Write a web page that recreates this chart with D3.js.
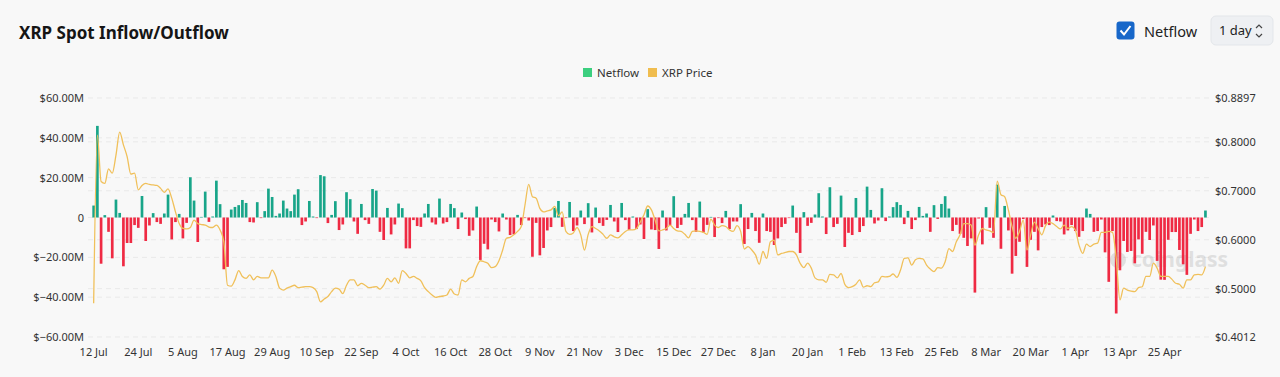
<!DOCTYPE html>
<html>
<head>
<meta charset="utf-8">
<script src="https://cdn.jsdelivr.net/npm/d3@7"></script>
<style>
  html, body { margin: 0; padding: 0; background: #f8f8f8; }
  body { width: 1280px; height: 377px; overflow: hidden; font-family: "Noto Sans", "Open Sans", sans-serif; }
</style>
</head>
<body>
<div id="chart"></div>
<script>
// daily netflow in millions USD, 12 Jul 2023 -> 6 May 2024
const netflow = [
  6, 46, -23.2, 1.2, -7.2, -20.5, 9, 2.3, -24.5, -12.8,
  -12.8, -3.8, -5.2, 10.8, -11.8, -4, 2.2, -2.3, -3.2, 2,
  11.5, -11, -2.3, 1.8, -10.5, -2.7, 20.2, 8.5, -12.3, 0.3,
  13, -2.2, 0.5, 18.5, 6.7, -26, -24.8, 4, 5.3, 6.2,
  8.8, 7.3, -2.3, -2.5, 7.7, -0.3, 3.2, 14.5, 10.3, 0.8,
  2, 8.5, 4.5, 3.2, 11.5, 14.2, -3.8, -2, 8.3, 0.5,
  -0.3, 21.3, 20.7, -2.8, 1.3, 8.2, -6.3, -3.5, 12.7, 9.2,
  -2, -8.2, 6.8, -1.3, -3.2, 14.3, 13.5, -7.2, -11.3, 4.8,
  -8.5, -3.5, 7, 4.7, -15.5, -15.5, -1.3, -4.3, -4.7, 2,
  6.8, -2.5, -3.5, 9.5, -3, -2.3, 6.8, 4.7, -5.8, 2.5,
  -0.8, -9.2, -6.5, 5.5, -21.3, -13.2, -16, -1, -2.3, -7,
  2, -1, -8.8, -8.5, 1.3, -3.8, -0.3, -1.5, -19.7, -2.7,
  -19, -15.3, -6.5, -4.8, 4.8, 8.3, -4.7, -0.3, 7.8, -6.8,
  -4, 3.5, -3.3, 7.2, -7.5, 5, -2.8, -4.2, -1.2, 6.3,
  -2, -7.3, 7.3, -1.3, -6.2, 0.5, -5.8, -3.5, -10.8, 4.2,
  -6, -6.3, -15.8, 3.5, -6.5, -4, 10.7, -5.3, -3.7, 1.8,
  7.3, -1.3, -7.2, 8, -7.5, -3.7, 0.3, -9.8, -0.3, -2.8,
  3.3, -5.8, -2, -2, 6.7, -13.3, -5.8, 2.3, -6.8, -12.7,
  2, -6.8, -7.2, -13.8, -10.5, -4.8, -3.2, -0.3, 6, -7.7,
  -17.8, 2.7, -4.2, -2.7, 1.5, 12.2, 0.5, -8.3, 15.2, -4.8,
  -3.2, 11, -14.8, -7.7, -8.8, 9.8, -7.3, -4.3, 15.5, 3.8,
  -3, -1.5, 14.7, -1.8, 0.5, 5.2, 7.7, 6.3, -3.3, 3.3,
  -5.8, -1.3, 5.3, 0.8, 2, -7.2, 6.2, -0.7, 6.8, 10.7,
  4.5, -6.8, -3.7, -8.2, -10.2, -14.3, -10.5, -37.7, -0.5, -13.5,
  5.2, -5.2, -10.2, 16.5, -15.7, 5.8, -6.5, -28.2, -19.3, -12.2,
  -0.8, -24.8, -11.2, -7.2, -16.5, -4.8, -3.5, -3.8, 1, -1.8,
  -2, -8.5, -6.5, -3.8, -6.8, -9.7, -6.8, 4.5, 1.8, -7.2,
  -6.8, -1, -17.5, -32.3, -6.8, -48.2, -26.5, -11.8, -17.3, -16.8,
  -23, -11, -18.2, -7.2, -11.3, -4, -21.8, -31.2, -31.3, -11.2,
  -7.3, -7.3, -16.3, -23.5, -28.8, -8.2, -1, -6.8, -4.8, 3.5
];

// XRP daily price (USD)
const price = [
  0.470, 0.814, 0.719, 0.715, 0.745, 0.736, 0.773, 0.820, 0.794, 0.770,
  0.734, 0.736, 0.702, 0.711, 0.715, 0.713, 0.712, 0.711, 0.705, 0.697,
  0.704, 0.685, 0.657, 0.633, 0.623, 0.622, 0.625, 0.640, 0.633, 0.631,
  0.630, 0.626, 0.625, 0.630, 0.620, 0.596, 0.507, 0.505, 0.518, 0.537,
  0.525, 0.521, 0.528, 0.518, 0.525, 0.522, 0.522, 0.522, 0.538, 0.525,
  0.501, 0.497, 0.501, 0.504, 0.507, 0.502, 0.503, 0.504, 0.504, 0.502,
  0.494, 0.473, 0.479, 0.484, 0.494, 0.501, 0.499, 0.490, 0.507, 0.518,
  0.518, 0.506, 0.511, 0.507, 0.502, 0.503, 0.504, 0.499, 0.507, 0.521,
  0.514, 0.522, 0.511, 0.537, 0.531, 0.522, 0.525, 0.521, 0.516, 0.502,
  0.494, 0.487, 0.482, 0.484, 0.485, 0.487, 0.499, 0.489, 0.487, 0.518,
  0.514, 0.521, 0.525, 0.545, 0.557, 0.555, 0.552, 0.543, 0.545, 0.557,
  0.579, 0.603, 0.605, 0.610, 0.617, 0.627, 0.671, 0.713, 0.688, 0.685,
  0.664, 0.657, 0.659, 0.661, 0.668, 0.649, 0.657, 0.617, 0.611, 0.614,
  0.625, 0.610, 0.579, 0.611, 0.627, 0.623, 0.618, 0.611, 0.603, 0.610,
  0.606, 0.604, 0.610, 0.617, 0.620, 0.620, 0.623, 0.636, 0.651, 0.669,
  0.661, 0.640, 0.618, 0.620, 0.623, 0.630, 0.623, 0.618, 0.617, 0.611,
  0.604, 0.617, 0.618, 0.617, 0.615, 0.611, 0.642, 0.630, 0.625, 0.629,
  0.627, 0.620, 0.617, 0.629, 0.617, 0.581, 0.586, 0.579, 0.569, 0.550,
  0.576, 0.562, 0.596, 0.599, 0.569, 0.572, 0.574, 0.576, 0.576, 0.569,
  0.552, 0.543, 0.552, 0.542, 0.522, 0.518, 0.518, 0.513, 0.529, 0.528,
  0.522, 0.531, 0.509, 0.502, 0.504, 0.509, 0.518, 0.503, 0.506, 0.504,
  0.512, 0.514, 0.525, 0.524, 0.525, 0.530, 0.523, 0.538, 0.562, 0.563,
  0.548, 0.559, 0.562, 0.561, 0.548, 0.540, 0.535, 0.543, 0.542, 0.555,
  0.582, 0.576, 0.596, 0.610, 0.633, 0.633, 0.630, 0.589, 0.610, 0.623,
  0.620, 0.618, 0.615, 0.720, 0.692, 0.688, 0.661, 0.627, 0.603, 0.617,
  0.640, 0.579, 0.610, 0.636, 0.623, 0.610, 0.629, 0.636, 0.633, 0.627,
  0.622, 0.630, 0.623, 0.627, 0.620, 0.589, 0.572, 0.591, 0.586, 0.591,
  0.593, 0.615, 0.615, 0.617, 0.615, 0.562, 0.477, 0.501, 0.497, 0.495,
  0.494, 0.502, 0.504, 0.525, 0.525, 0.552, 0.542, 0.525, 0.525, 0.525,
  0.519, 0.511, 0.509, 0.501, 0.518, 0.518, 0.528, 0.529, 0.528, 0.545
];

const leftTicks = [60, 40, 20, 0, -20, -40, -60];
const rightTicks = [0.8897, 0.8, 0.7, 0.6, 0.5, 0.4012];
const xTickLabels = ["12 Jul", "24 Jul", "5 Aug", "17 Aug", "29 Aug", "10 Sep", "22 Sep", "4 Oct",
  "16 Oct", "28 Oct", "9 Nov", "21 Nov", "3 Dec", "15 Dec", "27 Dec", "8 Jan", "20 Jan", "1 Feb",
  "13 Feb", "25 Feb", "8 Mar", "20 Mar", "1 Apr", "13 Apr", "25 Apr"];

const fmtDay = d3.timeFormat("%-d %b");
const days = d3.timeDay.range(new Date(2023, 6, 12), new Date(2024, 4, 7)).map(fmtDay);

const W = 1280, H = 377;
const plot = { left: 91.8, right: 1207.3, top: 98, bottom: 337 };

const svg = d3.select("#chart").append("svg")
  .attr("width", W).attr("height", H)
  .style("display", "block");

const x = d3.scaleBand().domain(days).range([plot.left, plot.right]).paddingInner(0.28).paddingOuter(0.14);
const y = d3.scaleLinear().domain([-60, 60]).range([plot.bottom, plot.top]);
const y2 = d3.scaleLinear().domain([0.4012, 0.8897]).range([plot.bottom, plot.top]);

// title
svg.append("text").attr("x", 19).attr("y", 39)
  .attr("font-size", 17).attr("font-weight", 700).attr("fill", "#151515")
  .text("XRP Spot Inflow/Outflow");

// top-right controls
const ctl = svg.append("g");
ctl.append("rect").attr("x", 1116.5).attr("y", 21.5).attr("width", 18).attr("height", 18)
  .attr("rx", 3).attr("fill", "#1767c9");
ctl.append("path").attr("d", "M1120.5,30.5 L1124,34.5 L1130.5,26")
  .attr("fill", "none").attr("stroke", "#fff").attr("stroke-width", 2);
ctl.append("text").attr("x", 1144).attr("y", 36.5).attr("font-size", 14.5).attr("fill", "#222").text("Netflow");
ctl.append("rect").attr("x", 1211).attr("y", 16).attr("width", 62).attr("height", 29)
  .attr("rx", 5).attr("fill", "#eef0f3").attr("stroke", "#e3e6ea");
ctl.append("text").attr("x", 1219).attr("y", 35).attr("font-size", 13).attr("fill", "#222").text("1 day");
ctl.append("path").attr("d", "M1256,28 L1259,25 L1262,28 M1256,34 L1259,37 L1262,34")
  .attr("fill", "none").attr("stroke", "#444").attr("stroke-width", 1.2);

// legend
const legend = svg.append("g").attr("font-size", 11.5).attr("fill", "#333");
legend.append("rect").attr("x", 583).attr("y", 68).attr("width", 9).attr("height", 9).attr("fill", "#3ccf7f");
legend.append("text").attr("x", 597).attr("y", 76.5).text("Netflow");
legend.append("rect").attr("x", 648).attr("y", 68).attr("width", 9).attr("height", 9).attr("fill", "#f0bd4f");
legend.append("text").attr("x", 662).attr("y", 76.5).text("XRP Price");

// grid lines
const grid = svg.append("g").attr("stroke", "#e9e9e9").attr("stroke-dasharray", "5,4");
grid.selectAll("line.l").data(leftTicks).enter().append("line")
  .attr("x1", 88).attr("x2", 1210).attr("y1", d => y(d)).attr("y2", d => y(d));
grid.selectAll("line.r").data(rightTicks.slice(1, -1)).enter().append("line")
  .attr("x1", 88).attr("x2", 1210).attr("y1", d => y2(d)).attr("y2", d => y2(d));

// left axis labels
svg.append("g").selectAll("text").data(leftTicks).enter().append("text")
  .attr("x", 84).attr("y", d => y(d) + 4).attr("text-anchor", "end")
  .attr("font-size", 11).attr("fill", "#333")
  .text(d => d === 0 ? "0" : "$" + d3.format(".2f")(d) + "M");

// right axis labels
svg.append("g").selectAll("text").data(rightTicks).enter().append("text")
  .attr("x", 1215).attr("y", d => y2(d) + 4)
  .attr("font-size", 11).attr("fill", "#333")
  .text(d => "$" + d3.format(".4f")(d));

// x axis labels
svg.append("g").selectAll("text").data(xTickLabels).enter().append("text")
  .attr("x", d => x(d) + x.bandwidth() / 2).attr("y", 356).attr("text-anchor", "middle")
  .attr("font-size", 11).attr("fill", "#333")
  .text(d => d);

// watermark
const wm = svg.append("g").attr("opacity", 0.22);
wm.append("circle").attr("cx", 1118).attr("cy", 260).attr("r", 8).attr("fill", "#8a8a8a");
wm.append("text").attr("x", 1131).attr("y", 267).attr("font-size", 21).attr("font-weight", 700)
  .attr("fill", "#8a8a8a").text("coinglass");

// bars
svg.append("g").selectAll("rect").data(netflow).enter().append("rect")
  .attr("x", (d, i) => x(days[i]))
  .attr("width", x.bandwidth())
  .attr("y", d => d >= 0 ? y(d) : y(0))
  .attr("height", d => Math.max(0.6, Math.abs(y(d) - y(0))))
  .attr("fill", d => d >= 0 ? "#18a589" : "#ef2a43");

// price line
const line = d3.line()
  .x((d, i) => x(days[i]) + x.bandwidth() / 2)
  .y(d => y2(d))
  .curve(d3.curveMonotoneX);

svg.append("path").datum(price)
  .attr("d", line)
  .attr("fill", "none")
  .attr("stroke", "#f0c05a")
  .attr("stroke-width", 1.3);
</script>
</body>
</html>
